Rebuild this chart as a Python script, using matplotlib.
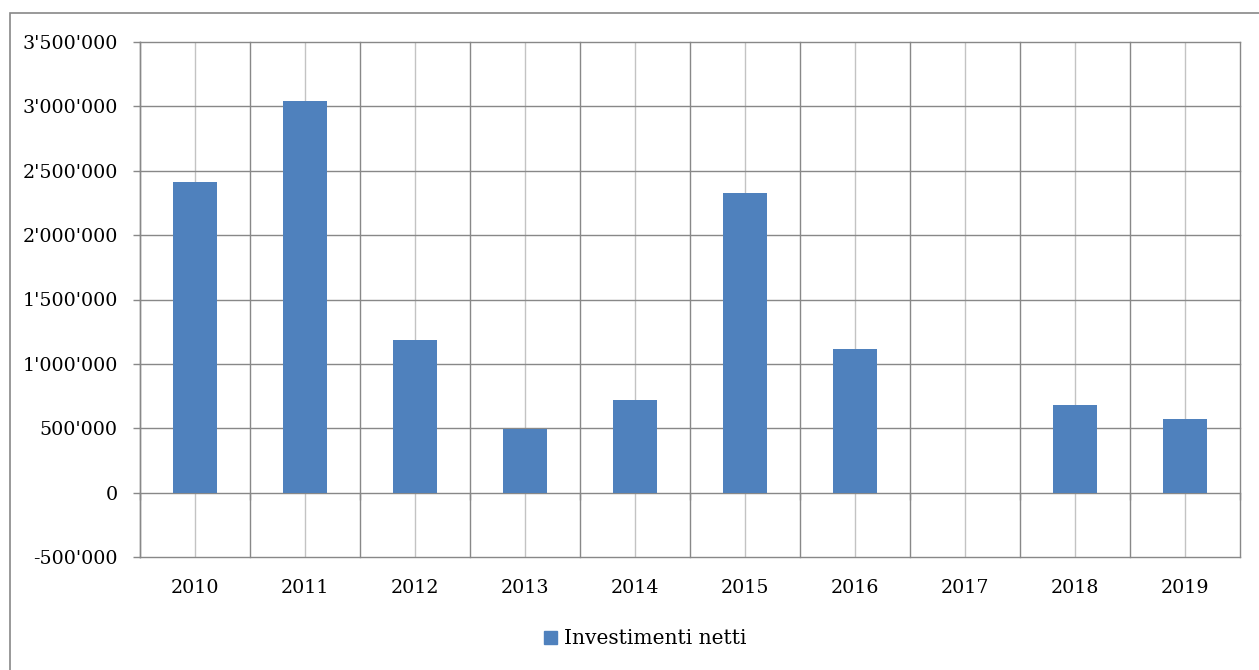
import matplotlib
matplotlib.use("Agg")
import matplotlib.pyplot as plt
import matplotlib.patches as mpatches
import numpy as np
from matplotlib.ticker import FuncFormatter

# Data
years = ["2010", "2011", "2012", "2013", "2014", "2015", "2016", "2017", "2018", "2019"]
investimenti_netti = [2410000, 3045000, 1185000, 495000, 720000, 2325000, 1115000, 0, 680000, 572000]
series_name = "Investimenti netti"
y_ticks = [-500000, 0, 500000, 1000000, 1500000, 2000000, 2500000, 3000000, 3500000]

BAR = "#4F81BD"
DARK = "#888888"
LIGHT = "#C3C3C3"
FONT = "DejaVu Serif"

plt.rcParams["font.family"] = [FONT]

W, H = 1259, 670
fig = plt.figure(figsize=(W / 100, H / 100), dpi=100)
fig.patch.set_facecolor("white")

# outer chart frame
frame = mpatches.Rectangle((9.5 / W, -0.05), (W + 20) / W, (H - 13) / H + 0.05,
                           transform=fig.transFigure, fill=False, edgecolor=DARK, lw=1.2)
fig.patches.append(frame)

left, right, top, bottom = 140, 1240, 42, 557
ax = fig.add_axes([left / W, (H - bottom) / H, (right - left) / W, (bottom - top) / H])

x = np.arange(len(years))
ax.bar(x, investimenti_netti, width=0.4, color=BAR, zorder=3, label=series_name)

ax.set_xlim(-0.5, len(years) - 0.5)
ax.set_ylim(y_ticks[0], y_ticks[-1])

# grid lines
for yv in y_ticks:
    ax.axhline(yv, color=DARK, lw=1.0, zorder=1, clip_on=False)
for b in np.arange(len(years) + 1) - 0.5:
    ax.axvline(b, color=DARK, lw=1.0, zorder=1, clip_on=False)
for c in x:
    ax.axvline(c, color=LIGHT, lw=1.0, zorder=0.5)

for s in ["top", "right", "bottom"]:
    ax.spines[s].set_visible(False)
ax.spines["left"].set_color(DARK)
ax.spines["left"].set_linewidth(1.0)

ax.set_yticks(y_ticks)
ax.yaxis.set_major_formatter(FuncFormatter(lambda v, p: f"{int(round(v)):,}".replace(",", "'")))
ax.tick_params(axis="y", direction="out", length=5, width=1.0, color=DARK,
               labelsize=13.7, pad=11, labelcolor="black")

ax.set_xticks(x)
ax.set_xticklabels(years)
ax.tick_params(axis="x", length=0, labelsize=13.7, pad=16, labelcolor="black")

# small tick marks below the zero line at category boundaries
loc0 = (0 - y_ticks[0]) / (y_ticks[-1] - y_ticks[0])
sec = ax.secondary_xaxis(loc0)
sec.set_xticks(np.arange(len(years) + 1) - 0.5)
sec.set_xticklabels([])
sec.tick_params(direction="out", length=5, width=1.0, color=DARK)
sec.spines["bottom"].set_visible(False)
sec.spines["top"].set_visible(False)

# legend
handle = mpatches.Patch(color=BAR, label=series_name)
fig.legend(handles=[handle], loc="center", bbox_to_anchor=(645 / W, (H - 639) / H),
           frameon=False, fontsize=14.5, handlelength=0.65, handleheight=0.65,
           handletextpad=0.35)

fig.savefig("out.png", dpi=100, facecolor="white")
